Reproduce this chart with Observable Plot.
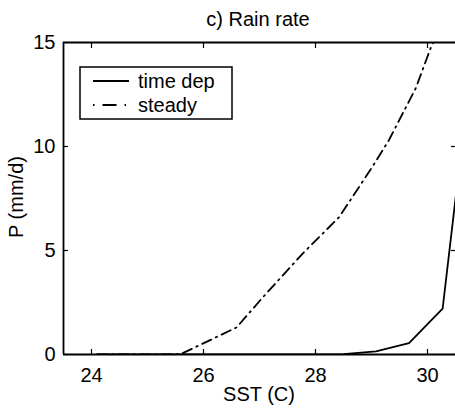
<!DOCTYPE html>
<html>
<head>
<meta charset="utf-8">
<script src="https://cdn.jsdelivr.net/npm/d3@7"></script>
<script src="https://cdn.jsdelivr.net/npm/@observablehq/plot@0.6"></script>
<style>
  html, body { margin: 0; padding: 0; background: #fff; }
  svg { display: block; }
</style>
</head>
<body>
<div id="chart"></div>
<script>
const timeDepSST = [24.1, 25.0, 26.0, 27.0, 27.9, 28.5, 29.08, 29.67, 30.27, 30.87];
const timeDepP   = [0, 0, 0, 0, 0, 0.02, 0.15, 0.55, 2.2, 16];
const steadySST  = [24.1, 25.0, 25.58, 26.59, 27.06, 27.77, 28.42, 29.01, 29.31, 29.79, 30.06, 30.3];
const steadyP    = [0, 0, 0, 1.3, 2.75, 4.85, 6.6, 9.0, 10.3, 12.8, 14.76, 16.2];
const xTicks = [24, 26, 28, 30];
const yTicks = [0, 5, 10, 15];
const seriesNames = ["time dep", "steady"];
const title = "c) Rain rate";
const xLabel = "SST (C)";
const yLabel = "P (mm/d)";

const timeDep = timeDepSST.map((x, i) => ({x, y: timeDepP[i]}));
const steady = steadySST.map((x, i) => ({x, y: steadyP[i]}));

const font = "'Liberation Sans', Arial, Helvetica, sans-serif";
const fs = 20;
const dash = "10,5,1.5,5";

const plot = Plot.plot({
  width: 455,
  height: 409,
  marginLeft: 63,
  marginRight: 0,
  marginTop: 42,
  marginBottom: 55,
  style: {fontFamily: font, fontSize: fs + "px", color: "black", background: "white", overflow: "visible"},
  x: {domain: [23.5, 30.5], label: null},
  y: {domain: [0, 15], label: null},
  marks: [
    Plot.line(steady, {x: "x", y: "y", stroke: "black", strokeWidth: 1.8, strokeDasharray: dash, clip: true}),
    Plot.line(timeDep, {x: "x", y: "y", stroke: "black", strokeWidth: 1.8, clip: true}),
    Plot.axisX(xTicks, {anchor: "bottom", tickSize: 0, tickPadding: 13, fontSize: fs}),
    Plot.axisX(xTicks, {anchor: "bottom", tickSize: -5, text: null, strokeWidth: 1.2}),
    Plot.axisX(xTicks, {anchor: "top", tickSize: -5, text: null, strokeWidth: 1.2}),
    Plot.axisY(yTicks, {anchor: "left", tickSize: 0, tickPadding: 8, fontSize: fs}),
    Plot.axisY(yTicks, {anchor: "left", tickSize: -5, text: null, strokeWidth: 1.2}),
    Plot.axisY(yTicks, {anchor: "right", tickSize: -5, text: null, strokeWidth: 1.2}),
    Plot.ruleY([0], {stroke: "black", strokeWidth: 1.8}),
    Plot.ruleY([15], {stroke: "black", strokeWidth: 1.8}),
    Plot.ruleX([23.5], {stroke: "black", strokeWidth: 1.8})
  ]
});

document.getElementById("chart").appendChild(plot);

const svg = d3.select(plot);
svg.append("text")
  .attr("x", 258).attr("y", 26)
  .attr("text-anchor", "middle")
  .attr("font-family", font).attr("font-size", fs)
  .text(title);
svg.append("text")
  .attr("x", 259).attr("y", 401)
  .attr("text-anchor", "middle")
  .attr("font-family", font).attr("font-size", fs)
  .text(xLabel);
svg.append("text")
  .attr("transform", "translate(23,197) rotate(-90)")
  .attr("text-anchor", "middle")
  .attr("font-family", font).attr("font-size", fs)
  .text(yLabel);

// legend
const lg = svg.append("g");
lg.append("rect")
  .attr("x", 80).attr("y", 67).attr("width", 152).attr("height", 52)
  .attr("fill", "white").attr("stroke", "black").attr("stroke-width", 1.5);
const styles = [null, "1.5,8,14,8,1.5,40"];
seriesNames.forEach((name, i) => {
  const yy = 81 + i * 24;
  const l = lg.append("line")
    .attr("x1", 93).attr("x2", 129).attr("y1", yy).attr("y2", yy)
    .attr("stroke", "black").attr("stroke-width", 1.8);
  if (styles[i]) l.attr("stroke-dasharray", styles[i]);
  lg.append("text")
    .attr("x", 138).attr("y", yy + 6.5)
    .attr("text-anchor", "start")
    .attr("font-family", font).attr("font-size", fs)
    .text(name);
});
</script>
</body>
</html>
